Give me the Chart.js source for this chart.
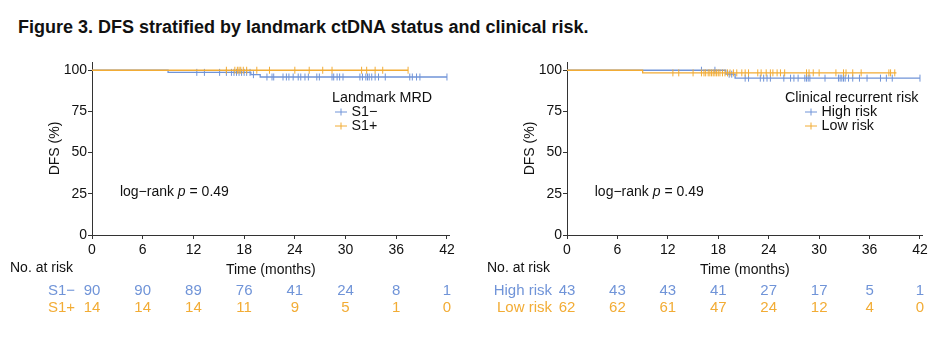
<!DOCTYPE html>
<html>
<head>
<meta charset="utf-8">
<script src="https://cdn.jsdelivr.net/npm/chart.js@4.4.1/dist/chart.umd.min.js"></script>
<style>
  body { margin: 0; background: #fff; width: 944px; height: 339px; overflow: hidden; position: relative; font-family: 'Liberation Sans', Arial, sans-serif; }
  h1 { position: absolute; left: 18px; top: 17px; margin: 0; font-size: 18px; font-weight: bold; color: #111; white-space: nowrap; }
  canvas { position: absolute; top: 0; }
</style>
</head>
<body>
<h1>Figure 3. DFS stratified by landmark ctDNA status and clinical risk.</h1>
<canvas id="mrdChart" width="470" height="339" style="left:0"></canvas>
<canvas id="riskChart" width="472" height="339" style="left:472px"></canvas>
<script>
// axis ticks
const monthTicks = [0, 6, 12, 18, 24, 30, 36, 42];
const dfsTicks = [0, 25, 50, 75, 100];

// Landmark MRD: step curves (time in months, DFS %) and censoring times
const s1NegTime = [0, 9.0, 18.8, 19.9, 42];
const s1NegSurv = [100, 98.7, 97.3, 95.9, 95.9];
const s1NegCensor = [12.4, 13.3, 15.1, 15.9, 16.5, 16.8, 17.1, 17.4, 17.7, 18.0, 18.3, 18.7, 19.1, 20.7, 21.3, 21.5,
  22.6, 23.0, 23.3, 23.8, 24.4, 24.7, 25.2, 25.6, 26.6, 26.9, 28.4, 28.6, 29.0, 29.3, 29.7, 31.7, 32.0, 32.4,
  32.6, 32.8, 33.1, 33.5, 33.9, 34.7, 37.6, 37.9, 38.4, 38.8, 42.0];
const s1PosTime = [0, 37.4];
const s1PosSurv = [100, 100];
const s1PosCensor = [15.9, 16.9, 17.2, 17.4, 17.6, 17.9, 18.3, 19.5, 21.0, 24.0, 25.7, 27.3, 28.4, 31.9, 32.5,
  33.5, 34.4, 37.4];
const s1NegRisk = [90, 90, 89, 76, 41, 24, 8, 1];
const s1PosRisk = [14, 14, 14, 11, 9, 5, 1, 0];

// Clinical recurrent risk
const highTime = [0, 18.9, 20.0, 42];
const highSurv = [100, 97.6, 95.2, 95.2];
const highCensor = [16.0, 17.6, 19.3, 19.6, 21.2, 21.6, 23.0, 23.4, 23.8, 24.2, 25.8, 26.6, 27.0, 27.5, 28.3,
  28.5, 28.7, 28.9, 30.7, 32.3, 32.5, 32.7, 32.9, 33.1, 33.5, 34.0, 34.8, 35.7, 37.3, 38.0, 38.7, 42.0];
const lowTime = [0, 9.0, 39.2];
const lowSurv = [100, 98.4, 98.4];
const lowCensor = [12.6, 13.3, 15.0, 16.0, 16.3, 16.5, 16.8, 17.0, 17.2, 17.4, 17.6, 17.8, 18.0, 18.2, 18.5,
  18.8, 19.1, 19.4, 19.8, 20.2, 20.8, 21.2, 21.6, 22.7, 23.1, 23.7, 24.2, 24.5, 25.0, 25.4, 25.9, 28.5, 28.8,
  29.3, 30.0, 32.0, 32.9, 33.2, 34.0, 35.0, 38.3, 38.5, 39.0];
const highRisk = [43, 43, 43, 41, 27, 17, 5, 1];
const lowRisk = [62, 62, 61, 47, 24, 12, 4, 0];

const BLUE = '#7094d8';
const ORANGE = '#f2ac35';
const FONT = "'Liberation Sans', Arial, sans-serif";

Chart.defaults.font.family = FONT;
Chart.defaults.color = '#111';

function survAt(times, surv, t) {
  let s = surv[0];
  for (let i = 0; i < times.length; i++) if (times[i] <= t) s = surv[i];
  return s;
}

function curve(times, surv, color) {
  return {
    data: times.map((t, i) => ({ x: t, y: surv[i] })),
    borderColor: color, borderWidth: 1.3, stepped: true, pointRadius: 0, fill: false
  };
}

function censor(times, surv, marks, color) {
  return {
    data: marks.map(t => ({ x: t, y: survAt(times, surv, t) })),
    showLine: false, borderColor: color, backgroundColor: color, borderWidth: 1,
    pointStyle: 'line', rotation: 90, pointRadius: 3.5
  };
}

// risk table, legend and log-rank label
const kmExtras = {
  id: 'kmExtras',
  afterDraw(chart, args, o) {
    const ctx = chart.ctx;
    const x = chart.scales.x, y = chart.scales.y;
    ctx.save();
    ctx.textBaseline = 'middle';
    ctx.font = '14px ' + FONT;
    ctx.fillStyle = '#111';
    ctx.textAlign = 'left';
    ctx.fillText('No. at risk', o.riskLeft, 268);
    ctx.font = '15px ' + FONT;
    o.groups.forEach((g, i) => {
      const ry = [290.5, 307.5][i];
      ctx.fillStyle = g.color;
      ctx.textAlign = 'right';
      ctx.fillText(g.label, o.labelRight, ry);
      ctx.textAlign = 'center';
      monthTicks.forEach((m, j) => ctx.fillText(String(g.risk[j]), x.getPixelForValue(m), ry));
    });

    // legend
    ctx.font = '14.3px ' + FONT;
    ctx.fillStyle = '#111';
    ctx.textAlign = 'left';
    ctx.fillText(o.legendTitle, o.legendX, o.legendY);
    o.groups.forEach((g, i) => {
      const ly = o.legendY + 14 * (i + 1);
      ctx.strokeStyle = g.color;
      ctx.lineWidth = 1;
      ctx.beginPath();
      ctx.moveTo(o.keyX - 6, ly); ctx.lineTo(o.keyX + 6, ly);
      ctx.moveTo(o.keyX, ly - 3.5); ctx.lineTo(o.keyX, ly + 3.5);
      ctx.stroke();
      ctx.fillStyle = '#111';
      ctx.fillText(g.label, o.keyX + 10.5, ly);
    });

    // log-rank test
    let lx = x.getPixelForValue(3.3);
    const ly = y.getPixelForValue(26.2);
    const parts = [['log\u2212rank ', ''], ['p', 'italic '], [' = ' + o.pValue, '']];
    parts.forEach(([txt, style]) => {
      ctx.font = style + '14px ' + FONT;
      ctx.fillText(txt, lx, ly);
      lx += ctx.measureText(txt).width;
    });
    ctx.restore();
  }
};

function kmPanel(id, groups, extras, pad) {
  const datasets = [];
  // orange group is drawn on top, so it goes first
  [groups[1], groups[0]].forEach(g => {
    datasets.push(curve(g.time, g.surv, g.color));
    datasets.push(censor(g.time, g.surv, g.censor, g.color));
  });
  return new Chart(document.getElementById(id), {
    type: 'line',
    data: { datasets },
    options: {
      responsive: false,
      animation: false,
      events: [],
      layout: { padding: { left: pad.left, right: pad.right, top: 62, bottom: 60.6 } },
      plugins: {
        legend: { display: false },
        tooltip: { enabled: false },
        kmExtras: Object.assign({ groups }, extras)
      },
      scales: {
        x: {
          type: 'linear', min: 0, max: 42.3,
          afterBuildTicks: s => { s.ticks = monthTicks.map(v => ({ value: v })); },
          afterFit: s => { s.height = 43.4; },
          grid: { drawOnChartArea: false, drawTicks: true, tickLength: 4, color: '#333' },
          border: { color: '#333', width: 1 },
          ticks: { color: '#111', font: { size: 14 }, padding: 3, maxRotation: 0, autoSkip: false },
          title: { display: true, text: 'Time (months)', color: '#111', font: { size: 14 }, padding: 0 }
        },
        y: {
          min: 0, max: 105,
          afterBuildTicks: s => { s.ticks = dfsTicks.map(v => ({ value: v })); },
          afterFit: s => { s.width = pad.axis; },
          grid: { drawOnChartArea: false, drawTicks: true, tickLength: 4, color: '#333' },
          border: { color: '#333', width: 1 },
          ticks: { color: '#111', font: { size: 14 }, padding: 1 },
          title: { display: true, text: 'DFS (%)', color: '#111', font: { size: 14 }, padding: { top: 1, bottom: 0 } }
        }
      }
    },
    plugins: [kmExtras]
  });
}

kmPanel('mrdChart', [
  { label: 'S1\u2212', time: s1NegTime, surv: s1NegSurv, censor: s1NegCensor, risk: s1NegRisk, color: BLUE },
  { label: 'S1+', time: s1PosTime, surv: s1PosSurv, censor: s1PosCensor, risk: s1PosRisk, color: ORANGE }
], { riskLeft: 10, labelRight: 75, legendTitle: 'Landmark MRD', legendX: 332, legendY: 98, keyX: 341, pValue: '0.49' },
{ left: 46, right: 20.5, axis: 46 });

kmPanel('riskChart', [
  { label: 'High risk', time: highTime, surv: highSurv, censor: highCensor, risk: highRisk, color: BLUE },
  { label: 'Low risk', time: lowTime, surv: lowSurv, censor: lowCensor, risk: lowRisk, color: ORANGE }
], { riskLeft: 15, labelRight: 80, legendTitle: 'Clinical recurrent risk', legendX: 313, legendY: 98, keyX: 339, pValue: '0.49' },
{ left: 48.6, right: 21.5, axis: 46.4 });
</script>
</body>
</html>
